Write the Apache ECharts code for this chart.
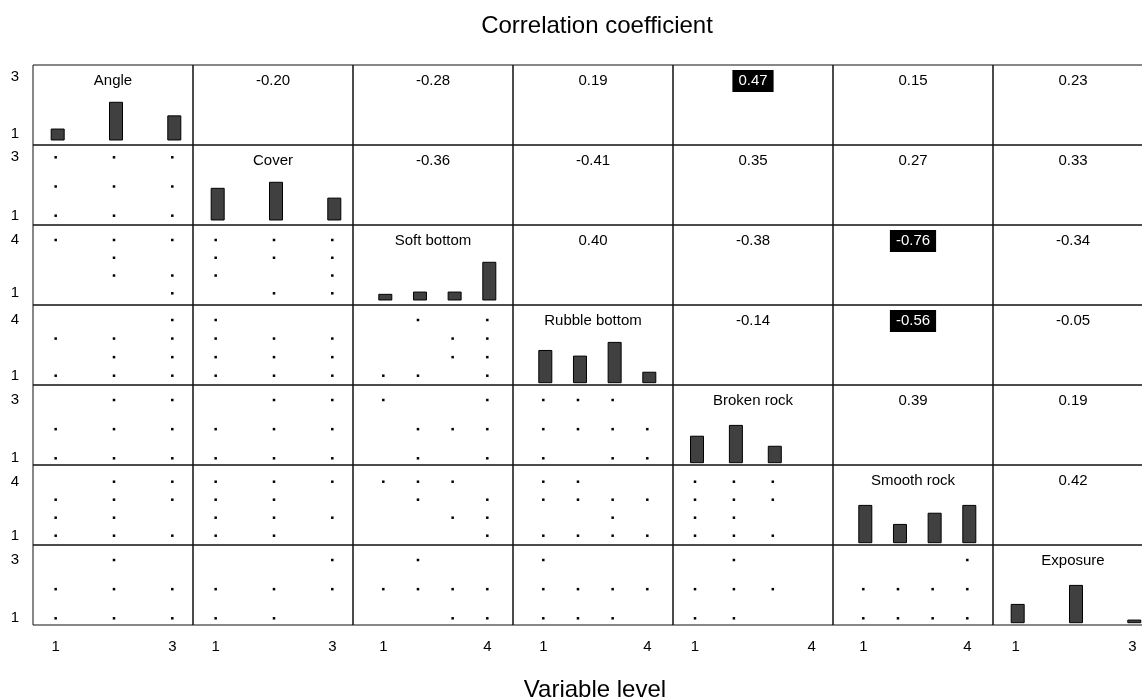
<!DOCTYPE html>
<html>
<head>
<meta charset="utf-8">
<script src="https://cdn.jsdelivr.net/npm/echarts@6/dist/echarts.min.js"></script>
<style>
  html, body { margin: 0; padding: 0; background: #fff; }
  #chart { width: 1142px; height: 699px; }
</style>
</head>
<body>
<div id="chart"></div>
<script>
// ---- Data ----------------------------------------------------------------
const variables = ['Angle', 'Cover', 'Soft bottom', 'Rubble bottom', 'Broken rock', 'Smooth rock', 'Exposure'];

// Tick labels shown under each column and beside each row
const columnTicks = [[1, 3], [1, 3], [1, 4], [1, 4], [1, 4], [1, 4], [1, 3]];
const rowTicks = [[1, 3], [1, 3], [1, 4], [1, 4], [1, 3], [1, 4], [1, 3]];

// Histogram bar heights per level (scaled so the tallest bar is 1)
const histAngle = [0.29, 1, 0.64];
const histCover = [0.84, 1, 0.58];
const histSoft = [0.15, 0.21, 0.21, 1];
const histRubble = [0.80, 0.66, 1, 0.26];
const histBroken = [0.71, 1, 0.44];
const histSmooth = [1, 0.49, 0.79, 1];
const histExposure = [0.49, 1, 0.07];

// Correlation coefficients, upper triangle, one array per row
const corAngle = [-0.20, -0.28, 0.19, 0.47, 0.15, 0.23];
const corCover = [-0.36, -0.41, 0.35, 0.27, 0.33];
const corSoft = [0.40, -0.38, -0.76, -0.34];
const corRubble = [-0.14, -0.56, -0.05];
const corBroken = [0.39, 0.19];
const corSmooth = [0.42];
const highlightCutoff = 0.45;

// Observed level combinations, lower triangle.
// For each column variable: for x level 1, 2, ... the list of y levels seen.
const pairsCover = [
  [[3, 2, 1], [3, 2, 1], [3, 2, 1]]
];
const pairsSoft = [
  [[4], [4, 3, 2], [4, 2, 1]],
  [[4, 3, 2], [4, 3, 1], [4, 3, 2, 1]]
];
const pairsRubble = [
  [[3, 1], [3, 2, 1], [4, 3, 2, 1]],
  [[4, 3, 2, 1], [3, 2, 1], [3, 2, 1]],
  [[1], [4, 1], [3, 2], [4, 3, 2, 1]]
];
const pairsBroken = [
  [[2, 1], [3, 2, 1], [3, 2, 1]],
  [[2, 1], [3, 2, 1], [3, 2, 1]],
  [[3], [2, 1], [2], [3, 2, 1]],
  [[3, 2, 1], [3, 2], [3, 2, 1], [2, 1]]
];
const pairsSmooth = [
  [[3, 2, 1], [4, 3, 2, 1], [4, 3, 1]],
  [[4, 3, 2, 1], [4, 3, 2, 1], [4, 2]],
  [[4], [4, 3], [4, 2], [3, 2, 1]],
  [[4, 3, 1], [4, 3, 1], [3, 2, 1], [3, 1]],
  [[4, 3, 2, 1], [4, 3, 2, 1], [4, 3, 1]]
];
const pairsExposure = [
  [[2, 1], [3, 2, 1], [2, 1]],
  [[2, 1], [2, 1], [3, 2]],
  [[2], [3, 2], [2, 1], [2, 1]],
  [[3, 2, 1], [2, 1], [2, 1], [2]],
  [[2, 1], [3, 2, 1], [2]],
  [[2, 1], [2, 1], [2, 1], [3, 2, 1]]
];

const histograms = [histAngle, histCover, histSoft, histRubble, histBroken, histSmooth, histExposure];
const correlations = [corAngle, corCover, corSoft, corRubble, corBroken, corSmooth, []];
const scatterRows = [[], pairsCover, pairsSoft, pairsRubble, pairsBroken, pairsSmooth, pairsExposure];

// ---- Axis extents per variable --------------------------------------------
const xExtent = [[0.611, 3.355], [0.611, 3.355], [0.126, 4.741], [0.126, 4.741],
                 [0.434, 4.548], [0.126, 4.741], [0.611, 3.355]];
const yExtent = [[0.616, 3.408], [0.681, 3.421], [0.342, 4.844], [0.499, 4.808],
                 [0.770, 3.515], [0.483, 4.928], [0.770, 3.515]];
const histExtent = [[-0.133, 1.989], [-0.133, 1.989], [-0.133, 1.989], [-0.057, 1.928],
                    [-0.062, 2.083], [-0.062, 2.083], [-0.062, 2.083]];

// ---- Layout ----------------------------------------------------------------
const FONT = '"Liberation Sans", Arial, Helvetica, sans-serif';
const LEFT = 33, TOP = 65, CELL_W = 160, CELL_H = 80;
const N = variables.length;

const grids = [], xAxes = [], yAxes = [], series = [];

function expandPairs(cols) {
  const pts = [];
  cols.forEach((ys, i) => ys.forEach(y => pts.push([i + 1, y])));
  return pts;
}

// A text label anchored at the top centre of a panel
function labelSeries(k, text, x, y, dark) {
  return {
    type: 'scatter', xAxisIndex: k, yAxisIndex: k, silent: true,
    symbol: 'circle', symbolSize: 1,
    itemStyle: { color: 'rgba(0,0,0,0)', opacity: 1 },
    data: [[x, y]],
    label: {
      show: true, position: 'bottom', distance: 4.5,
      formatter: () => text,
      fontFamily: FONT, fontSize: 15, lineHeight: 16,
      color: dark ? '#fff' : '#000',
      backgroundColor: dark ? '#000' : 'transparent',
      padding: [3, 6, 3, 6]
    }
  };
}

for (let r = 0; r < N; r++) {
  for (let c = 0; c < N; c++) {
    const k = r * N + c;
    grids.push({
      left: LEFT + c * CELL_W, top: TOP + r * CELL_H,
      width: CELL_W, height: CELL_H,
      show: true, borderColor: '#111', borderWidth: 1,
      backgroundColor: 'transparent',
      containLabel: false, outerBoundsMode: 'none'
    });
    const showX = r === N - 1, showY = c === 0;
    xAxes.push({
      gridIndex: k, type: 'value', min: xExtent[c][0], max: xExtent[c][1],
      show: showX,
      axisLine: { show: false }, axisTick: { show: false }, splitLine: { show: false },
      axisLabel: {
        show: showX, customValues: columnTicks[c], margin: 14,
        fontFamily: FONT, fontSize: 15, color: '#000', hideOverlap: false
      }
    });
    yAxes.push({
      gridIndex: k, type: 'value', min: yExtent[r][0], max: yExtent[r][1],
      show: showY,
      axisLine: { show: false }, axisTick: { show: false }, splitLine: { show: false },
      axisLabel: {
        show: showY, customValues: rowTicks[r], margin: 14,
        fontFamily: FONT, fontSize: 15, color: '#000', hideOverlap: false
      }
    });

    const xMid = (xExtent[c][0] + xExtent[c][1]) / 2;
    const yTop = yExtent[r][1];

    if (r > c) {
      series.push({
        type: 'scatter', xAxisIndex: k, yAxisIndex: k, silent: true,
        symbol: 'rect', symbolSize: 2.5,
        itemStyle: { color: '#000', opacity: 1 },
        data: expandPairs(scatterRows[r][c])
      });
    } else if (r < c) {
      const v = correlations[r][c - r - 1];
      series.push(labelSeries(k, v.toFixed(2), xMid, yTop, Math.abs(v) >= highlightCutoff));
    } else {
      series.push(labelSeries(k, variables[r], xMid, yTop, false));
    }
  }
}

// Extra y axes carrying the histogram scale on the diagonal panels
for (let i = 0; i < N; i++) {
  const k = i * N + i;
  const hAxis = yAxes.length;
  yAxes.push({
    gridIndex: k, type: 'value', min: histExtent[i][0], max: histExtent[i][1], show: false
  });
  series.push({
    type: 'custom', xAxisIndex: k, yAxisIndex: hAxis, silent: true, clip: false,
    data: histograms[i].map((h, j) => [j + 1, h]),
    renderItem: (params, api) => {
      const base = api.coord([api.value(0), 0]);
      const top = api.coord([api.value(0), api.value(1)]);
      const w = 13;
      return {
        type: 'rect',
        shape: { x: base[0] - w / 2 + 2, y: top[1], width: w, height: base[1] - top[1] },
        style: { fill: '#404040', stroke: '#000', lineWidth: 1 }
      };
    }
  });
}

const chart = echarts.init(document.getElementById('chart'), null, { renderer: 'canvas' });
chart.setOption({
  animation: false,
  backgroundColor: '#fff',
  grid: grids,
  xAxis: xAxes,
  yAxis: yAxes,
  series: series,
  graphic: [
    {
      type: 'text', x: 597, y: 26, silent: true,
      style: { text: 'Correlation coefficient', fill: '#000', font: '24px ' + FONT,
               align: 'center', verticalAlign: 'middle' }
    },
    {
      type: 'text', x: 595, y: 690, silent: true,
      style: { text: 'Variable level', fill: '#000', font: '24px ' + FONT,
               align: 'center', verticalAlign: 'middle' }
    }
  ]
});
</script>
</body>
</html>
